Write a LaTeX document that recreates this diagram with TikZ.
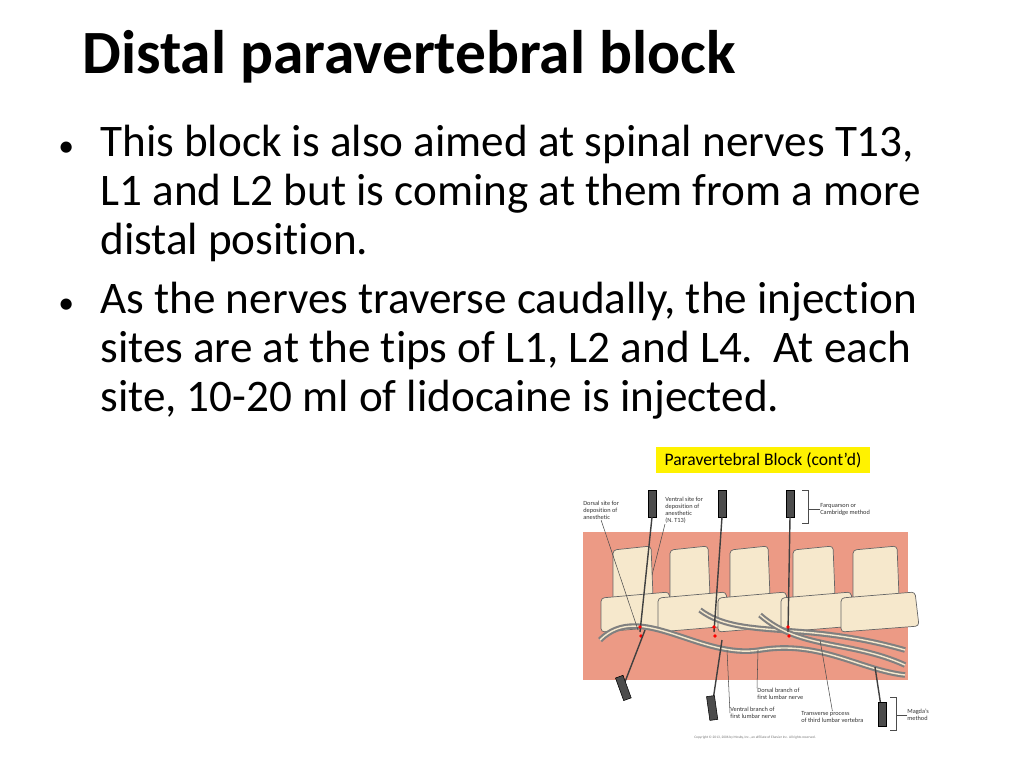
\documentclass[tikz,border=0pt]{standalone}
\usepackage{fontspec}
\setmainfont[Ligatures=NoCommon]{Carlito}
\definecolor{salmon}{HTML}{EC9A85}
\definecolor{bone}{HTML}{F6E8CC}
\definecolor{hilite}{HTML}{FFF200}
\tikzset{
  bodyline/.style={anchor=base west, inner sep=0pt, font=\fontsize{25.7}{30}\selectfont},
  tinylabel/.style={align=left, anchor=north west, inner sep=0pt, font=\fontsize{3.6}{4}\selectfont, text=black!80},
  leader/.style={black!70, line width=0.3pt},
  needle/.style={black!75, line width=0.8pt},
  syringe/.style={fill=black!70, draw=black, line width=0.3pt},
  vert/.style={fill=bone, draw=black!60, line width=0.4pt, rounded corners=2pt},
  nerve/.style={bone, draw=black!50, line width=1.2pt, double=bone, double distance=0.8pt}
}
\begin{document}
\begin{tikzpicture}[x=0.02cm, y=-0.02cm]
\useasboundingbox (0,0) rectangle (1024,768);
	%% Titel und Text
	\node[anchor=base west, inner sep=0pt, font=\bfseries\fontsize{35}{40}\selectfont] (title) at (82,73) {Distal paravertebral block};
	\node[bodyline, font=\fontsize{18}{20}\selectfont] (b1) at (58,156) {•};
	\node[bodyline] (l1) at (100,156) {This block is also aimed at spinal nerves T13,};
	\node[bodyline] (l2) at (100,205) {L1 and L2 but is coming at them from a more};
	\node[bodyline] (l3) at (100,254) {distal position.};
	\node[bodyline, font=\fontsize{18}{20}\selectfont] (b2) at (58,313) {•};
	\node[bodyline] (l4) at (100,313) {As the nerves traverse caudally, the injection};
	\node[bodyline] (l5) at (100,362) {sites are at the tips of L1, L2 and L4.\ \ At each};
	\node[bodyline] (l6) at (100,411) {site, 10-20 ml of lidocaine is injected.};

	%%%%%%%%%%%%%%%%

	%% Bild
\begin{scope}
	\node[fill=hilite, inner xsep=5pt, inner ysep=3pt, font=\fontsize{10}{11}\selectfont] (cap) at (763,460) {Paravertebral Block (cont’d)};
	\fill[salmon] (583,532) rectangle (908,680);
	%% Wirbel
	\foreach \x/\w in {613/38, 670/38, 730/38, 793/40, 853/44} {
		\draw[vert] (\x,550) -- ++(\w,-4) -- ++(2,50) -- ++(-\w-2,4) -- cycle;
		\draw[vert] (\x-12,598) -- ++(\w+30,-6) -- ++(4,34) -- ++(-\w-34,6) -- cycle;
	}
	%% Nerven
	\draw[nerve] (600,640) .. controls (640,600) and (700,660) .. (760,650) .. controls (820,640) and (860,670) .. (905,675);
	\draw[nerve] (700,610) .. controls (740,640) and (800,620) .. (905,650);
	\draw[nerve] (760,615) .. controls (800,650) and (850,640) .. (905,665);
	%% Nadeln
	\foreach \xa/\xb in {652/640, 722/714, 790/788} {
		\draw[syringe] (\xa-4,490) rectangle (\xa+4,517);
		\draw[needle] (\xa,517) -- (\xb,632);
		\fill[red] (\xb,627) circle (1.8) (\xb+1,636) circle (1.8);
	}
	\draw[needle] (623,687) -- (645,630);
	\draw[syringe, rotate around={20:(623,687)}] (619,676) rectangle (627,700);
	\draw[needle] (712,707) -- (722,640);
	\draw[syringe, rotate around={8:(712,707)}] (708,696) rectangle (716,720);
	\draw[needle] (882,713) -- (875,667);
	\draw[syringe] (878,702) rectangle (886,726);
	%% Beschriftung
	\node[tinylabel] (dorsal) at (583,501) {Dorsal site for\\deposition of\\anesthetic};
	\node[tinylabel] (ventral) at (665,497) {Ventral site for\\deposition of\\anesthetic\\(N. T13)};
	\node[tinylabel] (farq) at (820,503) {Farquarson or\\Cambridge method};
	\node[tinylabel] (dbranch) at (757,688) {Dorsal branch of\\first lumbar nerve};
	\node[tinylabel] (vbranch) at (730,707) {Ventral branch of\\first lumbar nerve};
	\node[tinylabel] (tproc) at (801,711) {Transverse process\\of third lumbar vertebra};
	\node[tinylabel] (magda) at (907,709) {Magda's\\method};
	\node[font=\fontsize{2}{2}\selectfont, text=black!55] (copy) at (755,738) {Copyright © 2013, 2006 by Mosby, Inc., an affiliate of Elsevier Inc. All rights reserved.};
	\coordinate (p1) at (638,630);
	\coordinate (p2) at (652,575);
	\coordinate (p3) at (758,650);
	\coordinate (p4) at (727,650);
	\coordinate (p5) at (820,640);
	\draw[leader] (dorsal.south) -- (p1);
	\draw[leader] (ventral.south west) -- (p2);
	\draw[leader] (dbranch.north west) -- (p3);
	\draw[leader] (vbranch.west) -- (p4);
	\draw[leader] (tproc.north) -- (p5);
	\draw[leader] (802,490) -- (808,490) -- (808,523) -- (802,523);
	\draw[leader] (farq.west) -- ++(-12,0);
	\draw[leader] (890,697) -- (896,697) -- (896,730) -- (890,730);
	\draw[leader] (magda.west) -- ++(-11,0);
\end{scope}
\end{tikzpicture}
\end{document}
